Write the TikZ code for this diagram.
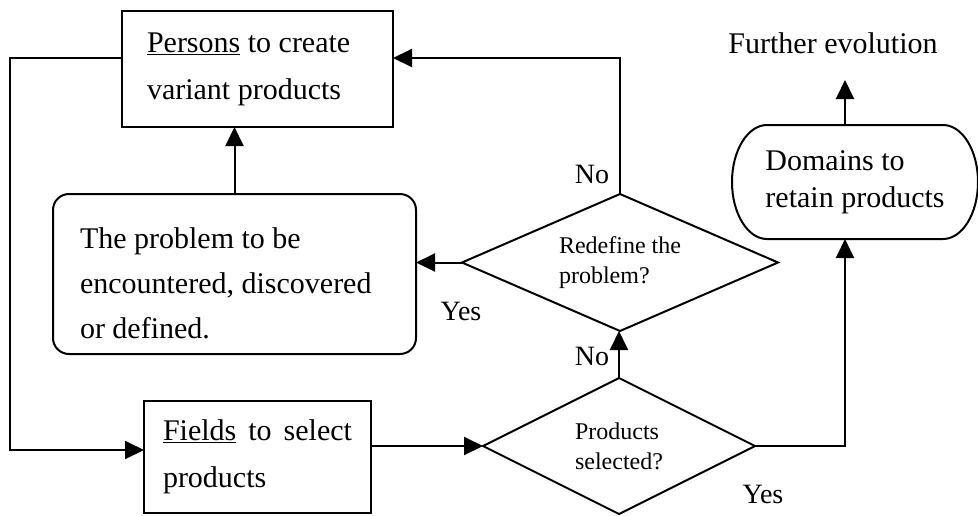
\documentclass[tikz,border=0pt]{standalone}
\usepackage{fontspec}
\setmainfont{Liberation Serif}
\usetikzlibrary{shapes.geometric,arrows.meta,calc}

\begin{document}
\begin{tikzpicture}[x=1pt,y=-1pt,
  line width=2pt,
  every node/.style={inner sep=0pt, outer sep=0pt,
    execute at begin node={\spaceskip=0pt\xspaceskip=0pt\relax}},
  boxnode/.style={draw, rectangle, align=left, font=\fontsize{30}{47}\selectfont},
  choice/.style={draw, diamond, aspect=2.3, align=left, font=\fontsize{24}{30}\selectfont},
  answer/.style={anchor=base, font=\fontsize{28}{30}\selectfont},
  flow/.style={-{Triangle[length=19pt,width=18pt]}}
]
\useasboundingbox (0,0) rectangle (978,515);

% boxes
\node[boxnode, minimum width=271pt, minimum height=116pt, text width=221pt]
  (persons) at (257.5,69) {\underline{Persons} to create\\variant products};
\node[boxnode, rounded corners=16pt, minimum width=363pt, minimum height=160pt,
  text width=309pt, font=\fontsize{30}{45}\selectfont]
  (problem) at (234.5,274) {\rule{0pt}{39pt}The problem to be\\encountered, discovered\\or defined.};
\node[boxnode, minimum width=227pt, minimum height=112pt, text width=189pt]
  (fields) at (257.5,457) {\makebox[189pt][s]{\underline{Fields} to select}\\products};

% domain box with elliptic ends
\node[rectangle, minimum width=246pt, minimum height=114pt, align=left,
  font=\fontsize{30}{37}\selectfont]
  (domains) at (855,182) {Domains to\\retain products};
\draw ([xshift=35pt]domains.north west) -- ([xshift=-35pt]domains.north east)
  arc[start angle=90, end angle=-90, x radius=35pt, y radius=57pt]
  -- ([xshift=35pt]domains.south west)
  arc[start angle=270, end angle=90, x radius=35pt, y radius=57pt] -- cycle;

% decisions
\node[choice, minimum width=316pt, minimum height=137pt]
  (redefine) at (620,262.5) {Redefine the\\problem?};
\node[choice, minimum width=272pt, minimum height=136pt]
  (products) at (619,446) {Products\\selected?};

% outcome
\node[font=\fontsize{30}{36}\selectfont, anchor=base] (further) at (833,53) {Further evolution};
\coordinate (evotip) at (845,80);

% connectors
\draw[flow] ([yshift=11pt]persons.west) -- ++(-112,0) |- ([yshift=7pt]fields.west);
\draw[flow] (problem.north) -- (problem.north |- persons.south);
\draw[flow] (redefine.west) -- (redefine.west -| problem.east);
\draw[flow] (redefine.north) |- ([yshift=11pt]persons.east);
\draw[flow] (products.north) -- (products.north |- redefine.south);
\draw[flow] (fields.east |- products.west) -- (products.west);
\draw[flow] (products.east) -| ([xshift=-10pt]domains.south);
\draw[flow] ([xshift=-10pt]domains.north) -- (evotip);

% answers
\node[answer] (no1) at (592,183) {No};
\node[answer] (yes1) at (461,320) {Yes};
\node[answer] (no2) at (592,365) {No};
\node[answer] (yes2) at (763,503) {Yes};
\end{tikzpicture}
\end{document}
